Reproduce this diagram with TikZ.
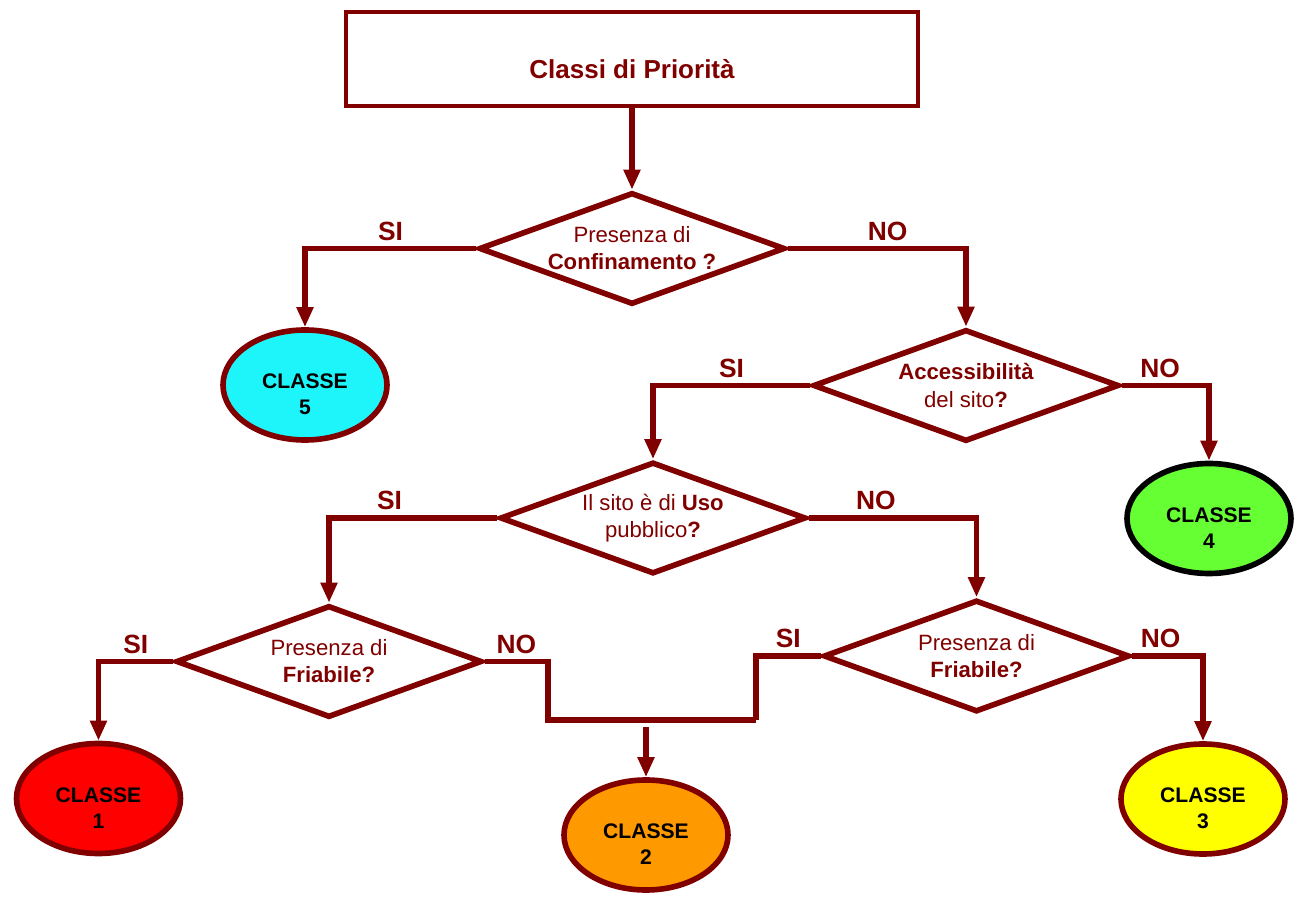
\documentclass[tikz,border=0pt]{standalone}
\usepackage{fontspec}
\setmainfont{Liberation Sans}
\usepackage{xcolor}
\usepackage{tikz}
\usetikzlibrary{shapes.geometric, arrows.meta, positioning, calc}
\definecolor{maroon}{RGB}{128,0,0}
\definecolor{cls1}{RGB}{255,0,0}
\definecolor{cls2}{RGB}{255,153,0}
\definecolor{cls3}{RGB}{255,255,0}
\definecolor{cls4}{RGB}{102,255,51}
\definecolor{cls5}{RGB}{30,245,250}
\tikzset{
  titlebox/.style={rectangle, draw=maroon, line width=1.4pt, minimum width=5.72cm, minimum height=0.94cm, align=center, text=maroon, text height=11pt, text depth=0pt, font=\fontsize{7.4}{9}\selectfont\bfseries},
  decision/.style={diamond, aspect=2.8, draw=maroon, line width=1.6pt, fill=white, minimum width=3.06cm, minimum height=1.12cm, inner sep=0pt, align=center, text=maroon, font=\fontsize{6.3}{7.7}\selectfont},
  classe/.style={ellipse, draw=maroon, line width=1.6pt, minimum width=1.64cm, minimum height=1.1cm, inner sep=0pt, align=center, text height=17pt, text depth=0pt, font=\fontsize{6}{7.4}\selectfont\bfseries},
  line/.style={draw=maroon, line width=1.5pt},
  arrow/.style={line, -{Triangle[length=2mm, width=1.6mm]}},
  lbl/.style={above, inner sep=1.5pt, text=maroon, font=\fontsize{7.5}{9}\selectfont\bfseries},
}
\begin{document}
\begin{tikzpicture}
\useasboundingbox (0,0) rectangle (12.98,-8.98);
\node[titlebox] (top) at (6.32,-0.59) {Classi di Priorità};
\node[decision] (conf) at (6.32,-2.485) {Presenza di\\\textbf{Confinamento ?}};
\node[decision] (acc) at (9.66,-3.855) {\textbf{Accessibilità}\\del sito\textbf{?}};
\node[decision] (uso) at (6.53,-5.18) {Il sito è di \textbf{Uso}\\pubblico\textbf{?}};
\node[decision] (friaL) at (3.29,-6.615) {Presenza di\\\textbf{Friabile?}};
\node[decision] (friaR) at (9.765,-6.56) {Presenza di\\\textbf{Friabile?}};
\node[classe, fill=cls5] (c5) at (3.05,-3.85) {CLASSE\\5};
\node[classe, fill=cls4, draw=black] (c4) at (12.09,-5.185) {CLASSE\\4};
\node[classe, fill=cls1] (c1) at (0.985,-7.985) {CLASSE\\1};
\node[classe, fill=cls2] (c2) at (6.46,-8.35) {CLASSE\\2};
\node[classe, fill=cls3] (c3) at (12.03,-7.99) {CLASSE\\3};
\coordinate (mL) at (5.48,-7.20);
\coordinate (mR) at (7.56,-7.20);
\coordinate (m2) at (6.46,-7.27);
\draw[arrow] (top) -- (conf);
\draw[arrow] (conf.west) -| node[lbl, pos=0.25]{SI} (c5.north);
\draw[arrow] (conf.east) -| node[lbl, pos=0.28]{NO} (acc.north);
\draw[arrow] (acc.west) -| node[lbl, pos=0.25]{SI} (uso.north);
\draw[arrow] (acc.east) -| node[lbl, pos=0.22]{NO} (c4.north);
\draw[arrow] (uso.west) -| node[lbl, pos=0.32]{SI} (friaL.north);
\draw[arrow] (uso.east) -| node[lbl, pos=0.2]{NO} (friaR.north);
\draw[arrow] (friaL.west) -| node[lbl, pos=0.25]{SI} (c1.north);
\draw[line] (friaL.east) -| node[lbl, pos=0.25]{NO} (mL) -- (mR);
\draw[line] (friaR.west) -| node[lbl, pos=0.25]{SI} (mR);
\draw[arrow] (friaR.east) -| node[lbl, pos=0.2]{NO} (c3.north);
\draw[arrow] (m2) -- (c2.north);
\end{tikzpicture}
\end{document}
